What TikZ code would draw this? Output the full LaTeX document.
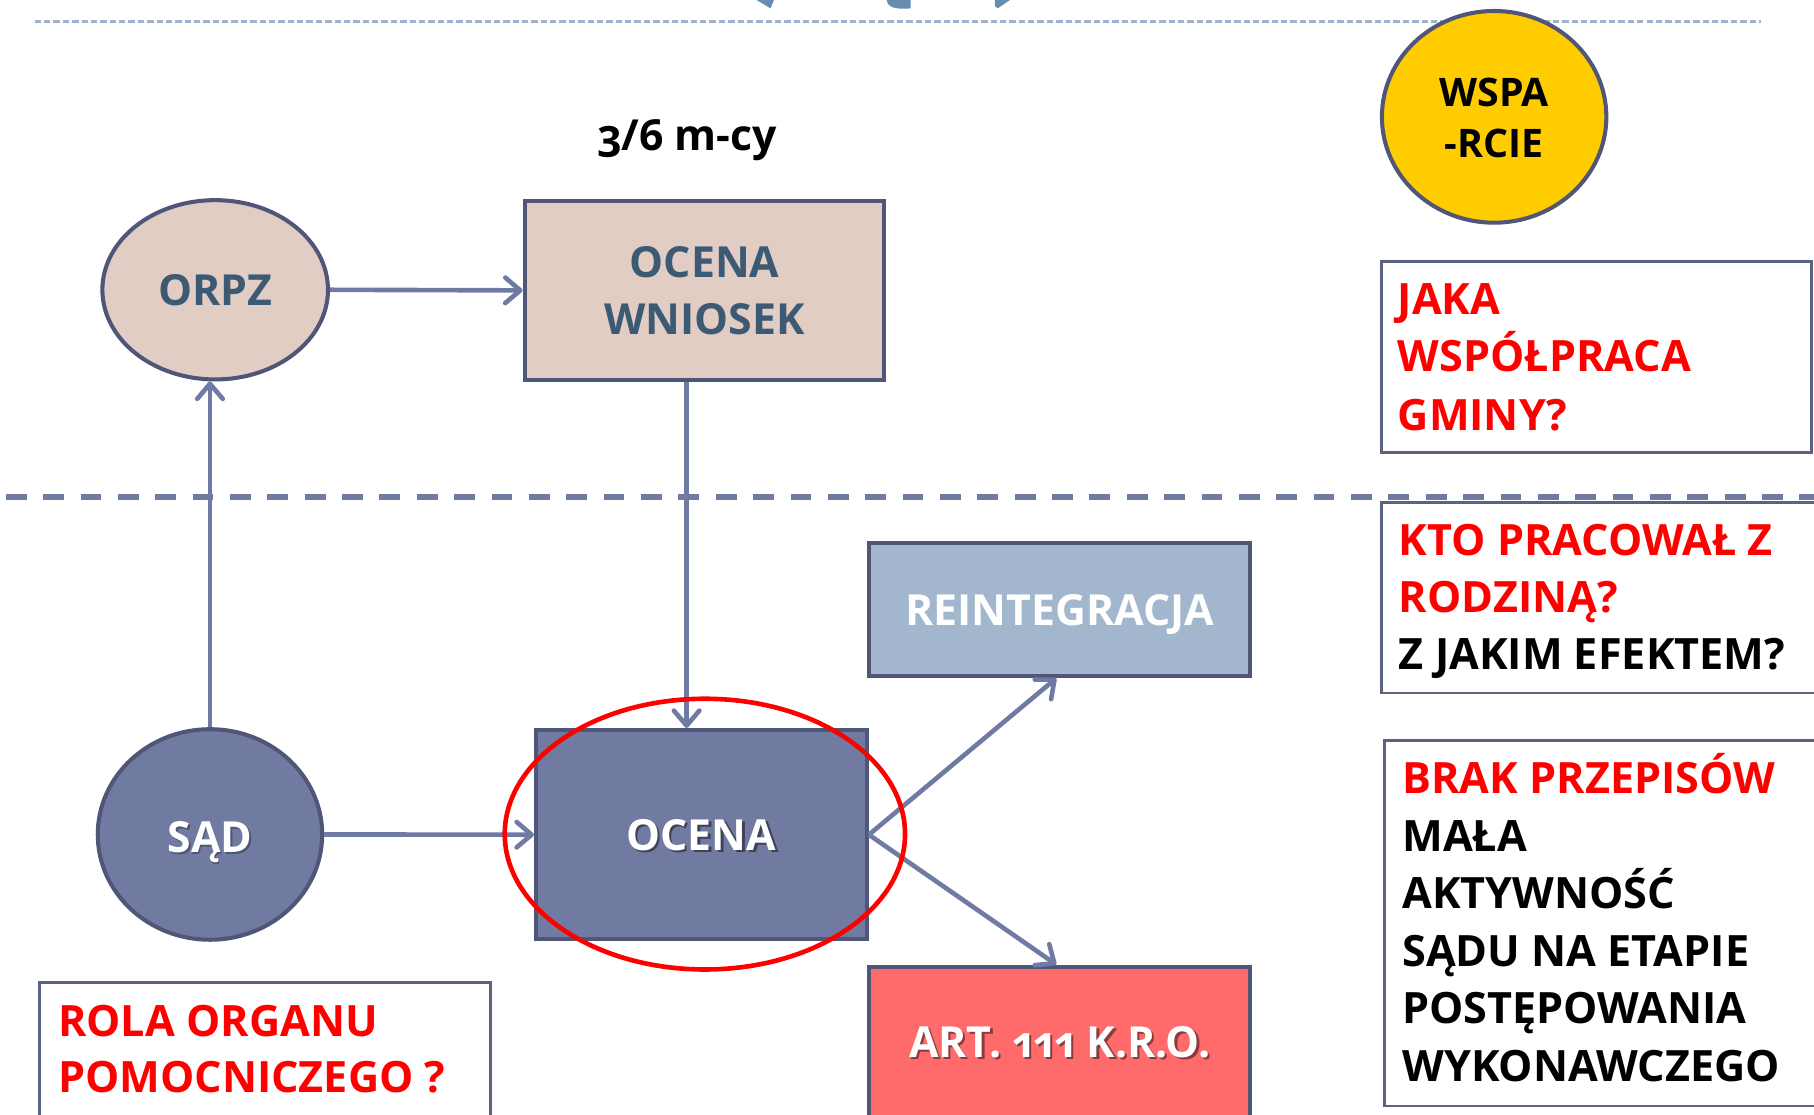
\documentclass[tikz,border=0pt]{standalone}
\usepackage{fontspec}
\setmainfont{Open Sans}
\usetikzlibrary{shapes.geometric,arrows.meta}
\definecolor{bord}{HTML}{4F5677}
\definecolor{arrc}{HTML}{6F7BA3}
\definecolor{slate}{HTML}{717BA1}
\definecolor{rose}{HTML}{E2CDC5}
\definecolor{txtblue}{HTML}{3D5A74}
\definecolor{steel}{HTML}{A2B7CE}
\definecolor{salmon}{HTML}{FF6B6B}
\definecolor{gold}{HTML}{FFCC00}
\definecolor{dotc}{HTML}{9DB3CB}
\definecolor{fragc}{HTML}{678DB0}
\definecolor{redt}{HTML}{FF0000}
\definecolor{sideb}{HTML}{5A6382}
\newfontfamily\oldnum[Numbers=OldStyle]{Open Sans}
\begin{document}
\begin{tikzpicture}[x=1pt,y=-1pt,
  lbl/.style={font=\fontsize{37}{46}\selectfont\bfseries, inner sep=0pt, anchor=base},
  sidetxt/.style={font=\fontsize{37.3}{50}\selectfont\bfseries, inner sep=0pt, anchor=base west},
  arr/.style={draw=arrc, line width=4pt, -{Straight Barb[length=13pt,width=22pt,round]}},
  sidebox/.style={rectangle, draw=sideb, line width=2.5pt, fill=white, inner sep=0pt},
  mainbox/.style={rectangle, draw=bord, line width=3.5pt, inner sep=0pt},
  mainell/.style={ellipse, draw=bord, line width=3.5pt, inner sep=0pt},
  shadowtxt/.style={lbl, text=black, opacity=0.45},
]
\useasboundingbox (0,0) rectangle (1568,963);
\clip (0,0) rectangle (1568,963);
\fill[white] (0,0) rectangle (1568,963);

% top fragments of a cut-off graphic
\fill[fragc] (654,0) -- (669,0) -- (666,7.2) -- (662.7,5.2) -- cycle;
\fill[fragc] (766.4,0) -- (787.2,0) -- (787.2,7.2) .. controls (778,8.2) and (770,7) .. (767.5,3.5) -- cycle;
\fill[fragc] (860,0) -- (873,0) -- (862.4,7.2) -- (860,5.2) -- cycle;

% top dotted line
\draw[dotc, line width=2pt, dash pattern=on 5.5pt off 2.6pt] (30,18.5) -- (1522,18.5);

% middle dashed separator
\draw[arrc, line width=5pt, dash pattern=on 18pt off 14.3pt, dash phase=-5pt] (0,429.3) -- (1568,429.3);

% shapes
\node[mainell, fill=gold, minimum width=194pt, minimum height=183pt] (wspa) at (1291.5,101) {};
\node[mainell, fill=rose, minimum width=195pt, minimum height=155pt] (orpz) at (186,250.5) {};
\node[mainbox, fill=rose, minimum width=311pt, minimum height=155pt] (wn) at (609,251) {};
\node[mainell, fill=slate, minimum width=194pt, minimum height=182pt] (sad) at (181.5,721.3) {};
\node[mainbox, fill=slate, minimum width=286pt, minimum height=181pt] (ocena) at (606.3,721.5) {};
\node[mainbox, fill=steel, minimum width=329pt, minimum height=115pt] (reint) at (916,527) {};
\node[mainbox, fill=salmon, minimum width=329pt, minimum height=163pt] (art) at (916,917) {};

\node[sidebox, minimum width=372pt, minimum height=165pt] (jaka) at (1380,308.3) {};
\node[sidebox, minimum width=405pt, minimum height=165pt] (kto) at (1396.5,516.5) {};
\node[sidebox, minimum width=402pt, minimum height=316pt] (brak) at (1397.8,798) {};
\node[sidebox, minimum width=390pt, minimum height=150pt] (rola) at (229.25,924) {};

% labels in shapes
\node[lbl, font=\fontsize{34}{44}\selectfont\bfseries] (wspa1) at (1291.5,92) {WSPA};
\node[lbl, font=\fontsize{34}{44}\selectfont\bfseries] (wspa2) at (1291.5,136) {-RCIE};
\node[lbl, font=\fontsize{37}{46}\selectfont\bfseries\oldnum] (months) at (594,130) {3/6 m-cy};
\node[lbl, text=txtblue] (orpzt) at (186,264) {ORPZ};
\node[lbl, text=txtblue] (wn1) at (609,240) {OCENA};
\node[lbl, text=txtblue] (wn2) at (609,289.5) {WNIOSEK};
\node[lbl, text=white] (reintt) at (916,540.6) {REINTEGRACJA};
\node[shadowtxt, opacity=0.3] (sads) at (183,738.5) {SĄD};
\node[lbl, text=white] (sadt) at (181.5,736.5) {SĄD};
\node[shadowtxt] (ocenas) at (608.3,737) {OCENA};
\node[lbl, text=white] (ocenat) at (606.3,735) {OCENA};
\node[shadowtxt, font=\fontsize{37}{46}\selectfont\bfseries\oldnum] (arts) at (918,916) {ART. 111 K.R.O.};
\node[lbl, text=white, font=\fontsize{37}{46}\selectfont\bfseries\oldnum] (artt) at (916,914) {ART. 111 K.R.O.};

% side box texts
\node[sidetxt, text=redt] (j1) at (1208,272) {JAKA};
\node[sidetxt, text=redt] (j2) at (1208,321.5) {WSPÓŁPRACA};
\node[sidetxt, text=redt] (j3) at (1208,371.7) {GMINY?};

\node[sidetxt, text=redt] (k1) at (1209,479.8) {KTO PRACOWAŁ Z};
\node[sidetxt, text=redt] (k2) at (1209,529.6) {RODZINĄ?};
\node[sidetxt, text=black] (k3) at (1209,579) {Z JAKIM EFEKTEM?};

\node[sidetxt, text=redt] (b1) at (1212,685.6) {BRAK PRZEPISÓW};
\node[sidetxt, text=black] (b2) at (1212,735.6) {MAŁA};
\node[sidetxt, text=black] (b3) at (1212,785) {AKTYWNOŚĆ};
\node[sidetxt, text=black] (b4) at (1212,835) {SĄDU NA ETAPIE};
\node[sidetxt, text=black] (b5) at (1212,885) {POSTĘPOWANIA};
\node[sidetxt, text=black] (b6) at (1212,934.5) {WYKONAWCZEGO};

\node[sidetxt, text=redt] (r1) at (50,895.5) {ROLA ORGANU};
\node[sidetxt, text=redt] (r2) at (50,944.5) {POMOCNICZEGO ?};

% connectors
\coordinate (vx) at (593.5,0);
\draw[arr] (orpz.east) -- (wn.west);
\draw[arr] (sad.north) -- (sad.north |- orpz.south);
\draw[arr] (wn.south -| vx) -- (ocena.north -| vx);
\draw[arr] (sad.east) -- (ocena.west);
\draw[arr] (ocena.east) -- ([xshift=-3pt]reint.south);
\draw[arr] (ocena.east) -- ([xshift=-3pt]art.north);

% red highlight ring
\node[ellipse, draw=redt, line width=4pt, minimum width=346pt, minimum height=234pt, inner sep=0pt] (ring) at (609.3,721) {};
\end{tikzpicture}
\end{document}
